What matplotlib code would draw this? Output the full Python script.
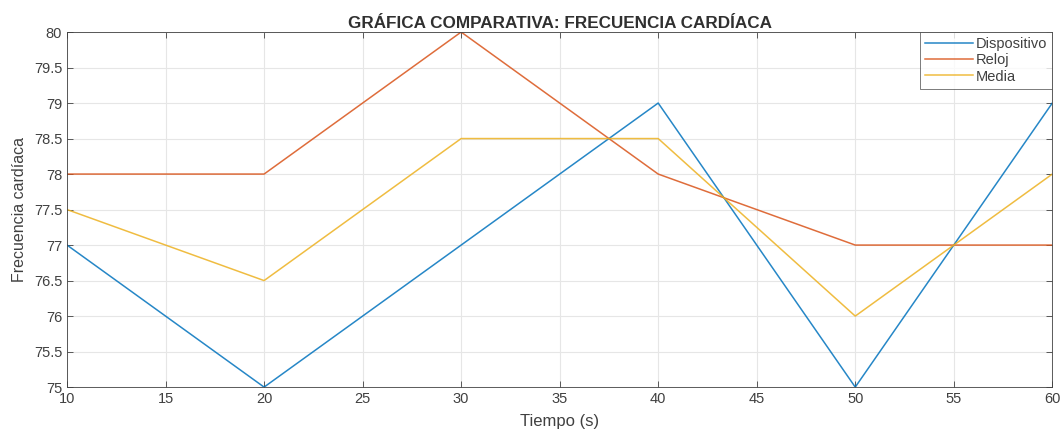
import matplotlib
matplotlib.use("Agg")
import matplotlib.pyplot as plt

tiempo = [10, 20, 30, 40, 50, 60]
dispositivo = [77, 75, 77, 79, 75, 79]
reloj = [78, 78, 80, 78, 77, 77]
media = [77.5, 76.5, 78.5, 78.5, 76, 78]

xticks = [10, 15, 20, 25, 30, 35, 40, 45, 50, 55, 60]
yticks = [75, 75.5, 76, 76.5, 77, 77.5, 78, 78.5, 79, 79.5, 80]

plt.rcParams['font.family'] = ['Liberation Sans', 'DejaVu Sans']

fig = plt.figure(figsize=(10.64, 4.33), dpi=100)
ax = fig.add_axes([0.063, 0.106, 0.926, 0.820])

ax.plot(tiempo, dispositivo, color='#0072BD', lw=1.1, alpha=0.85, label='Dispositivo')
ax.plot(tiempo, reloj, color='#D95319', lw=1.1, alpha=0.85, label='Reloj')
ax.plot(tiempo, media, color='#EDB120', lw=1.1, alpha=0.85, label='Media')

ax.set_xlim(10, 60)
ax.set_ylim(75, 80)
ax.set_xticks(xticks)
ax.set_yticks(yticks)
ax.set_xticklabels([str(v) for v in xticks])
ax.set_yticklabels([f"{v:g}" for v in yticks])

ax.grid(True, color='#e6e6e6', lw=0.8)
ax.set_axisbelow(True)
for s in ax.spines.values():
    s.set_color('#404040')
    s.set_linewidth(0.6)
ax.tick_params(direction='in', length=4, width=0.6, colors='#404040',
               labelsize=10.5, top=True, right=True, labeltop=False, labelright=False)

ax.set_xlabel('Tiempo (s)', fontsize=12, color='#404040', labelpad=6)
ax.set_ylabel('Frecuencia cardíaca', fontsize=11.5, color='#404040', labelpad=5)
ax.set_title('GRÁFICA COMPARATIVA: FRECUENCIA CARDÍACA', fontsize=12.3,
             fontweight='bold', color='#303030', pad=3)

leg = ax.legend(loc='upper right', fontsize=10.5, frameon=True, fancybox=False,
                borderaxespad=0, handlelength=3.3, handletextpad=0.2,
                labelspacing=0.15, borderpad=0.35)
leg.get_frame().set_edgecolor('#404040')
leg.get_frame().set_linewidth(0.6)
for t in leg.get_texts():
    t.set_color('#404040')

fig.savefig('out.png', dpi=100)
